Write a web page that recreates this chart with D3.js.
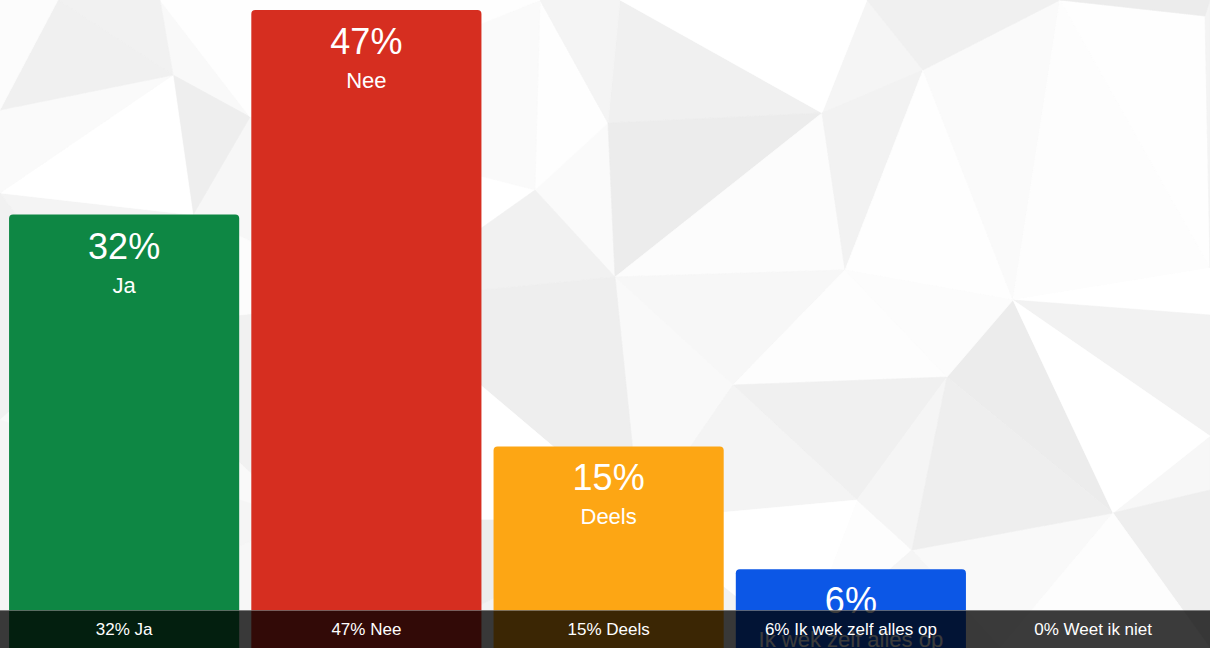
<!DOCTYPE html>
<html>
<head>
<meta charset="utf-8">
<script src="https://cdn.jsdelivr.net/npm/d3@7"></script>
<style>
  html, body { margin: 0; padding: 0; overflow: hidden; background: #fafafa; }
  svg { display: block; font-family: "Liberation Sans", Arial, Helvetica, sans-serif; }
</style>
</head>
<body>
<div id="chart"></div>
<script>
// dati del sondaggio
var categories = ["Ja", "Nee", "Deels", "Ik wek zelf alles op", "Weet ik niet"];
var percentages = [32, 47, 15, 6, 0];
var barColors = ["#0e8744", "#d62e20", "#fda614", "#0c57e6", "#888888"];

var width = 1210;
var height = 648;
var footerTop = 610;

var svg = d3.select("#chart")
            .append("svg")
            .attr("width", width)
            .attr("height", height);

// sfondo "low poly": solo decorazione
var bgPoints = [
    [0, 0], [1210, 0], [0, 648], [1210, 648],
    [58, 0], [160, 0], [540, 0], [620, 0], [867, 0], [1060, 0],
    [0, 110], [0, 193], [0, 420],
    [1210, 268], [1210, 315], [1210, 436], [1210, 490],
    [400, 648], [800, 648], [1000, 648],
    [173, 75], [250, 117], [193, 215], [535, 190], [608, 123], [822, 113],
    [615, 277], [845, 270], [923, 70], [1205, 16], [1013, 300], [733, 385],
    [947, 377], [857, 500], [912, 550], [1113, 513], [100, 330], [380, 300],
    [300, 520], [640, 520]
];
var bgShades = [250, 240, 254, 244, 236, 252, 247, 255, 241, 249, 238, 253, 245, 255, 242];

var delaunay = d3.Delaunay.from(bgPoints);
var tris = [];
for (var t = 0; t < delaunay.triangles.length / 3; t++) {
    tris.push([
        bgPoints[delaunay.triangles[t * 3]],
        bgPoints[delaunay.triangles[t * 3 + 1]],
        bgPoints[delaunay.triangles[t * 3 + 2]]
    ]);
}

svg.append("g")
   .selectAll("path")
   .data(tris)
   .enter()
   .append("path")
   .attr("d", function(d) { return "M" + d.join("L") + "Z"; })
   .attr("fill", function(d, i) {
       var s = bgShades[i % bgShades.length];
       return d3.rgb(s, s, s);
   })
   .attr("stroke", function(d, i) {
       var s = bgShades[i % bgShades.length];
       return d3.rgb(s, s, s);
   })
   .attr("stroke-width", 0.6);

// scale
var x = d3.scaleBand()
          .domain(categories)
          .range([3, 1214.25])
          .paddingInner(0.05)
          .paddingOuter(0.025);

var y = d3.scaleLinear()
          .domain([0, 47])
          .range([651, 10]);

var data = categories.map(function(c, i) {
    return { name: c, value: percentages[i], color: barColors[i] };
});

function topRounded(x0, y0, w, h, r) {
    r = Math.min(r, h, w / 2);
    return "M" + x0 + "," + (y0 + h) +
           "V" + (y0 + r) +
           "Q" + x0 + "," + y0 + " " + (x0 + r) + "," + y0 +
           "H" + (x0 + w - r) +
           "Q" + (x0 + w) + "," + y0 + " " + (x0 + w) + "," + (y0 + r) +
           "V" + (y0 + h) + "Z";
}

var bars = svg.append("g")
              .selectAll("g")
              .data(data.filter(function(d) { return d.value > 0; }))
              .enter()
              .append("g");

bars.append("path")
    .attr("d", function(d) {
        return topRounded(x(d.name), y(d.value), x.bandwidth(), height + 10 - y(d.value), 4);
    })
    .attr("fill", function(d) { return d.color; });

bars.append("text")
    .attr("x", function(d) { return x(d.name) + x.bandwidth() / 2; })
    .attr("y", function(d) { return y(d.value) + 44; })
    .attr("text-anchor", "middle")
    .attr("fill", "#fff")
    .style("font-size", "36px")
    .text(function(d) { return d.value + "%"; });

bars.append("text")
    .attr("x", function(d) { return x(d.name) + x.bandwidth() / 2; })
    .attr("y", function(d) { return y(d.value) + 78; })
    .attr("text-anchor", "middle")
    .attr("fill", "#fff")
    .style("font-size", "22px")
    .text(function(d) { return d.name; });

// barra in basso con le etichette
var footer = svg.append("g");

footer.append("rect")
      .attr("x", 0)
      .attr("y", footerTop)
      .attr("width", width)
      .attr("height", height - footerTop)
      .attr("fill", "rgba(0,0,0,0.77)");

footer.append("line")
      .attr("x1", 0)
      .attr("x2", width)
      .attr("y1", footerTop + 0.5)
      .attr("y2", footerTop + 0.5)
      .attr("stroke", "rgba(255,255,255,0.35)");

footer.selectAll("text")
      .data(data)
      .enter()
      .append("text")
      .attr("x", function(d) { return x(d.name) + x.bandwidth() / 2; })
      .attr("y", 635)
      .attr("text-anchor", "middle")
      .attr("fill", "#fff")
      .style("font-size", "17px")
      .text(function(d) { return d.value + "% " + d.name; });
</script>
</body>
</html>
